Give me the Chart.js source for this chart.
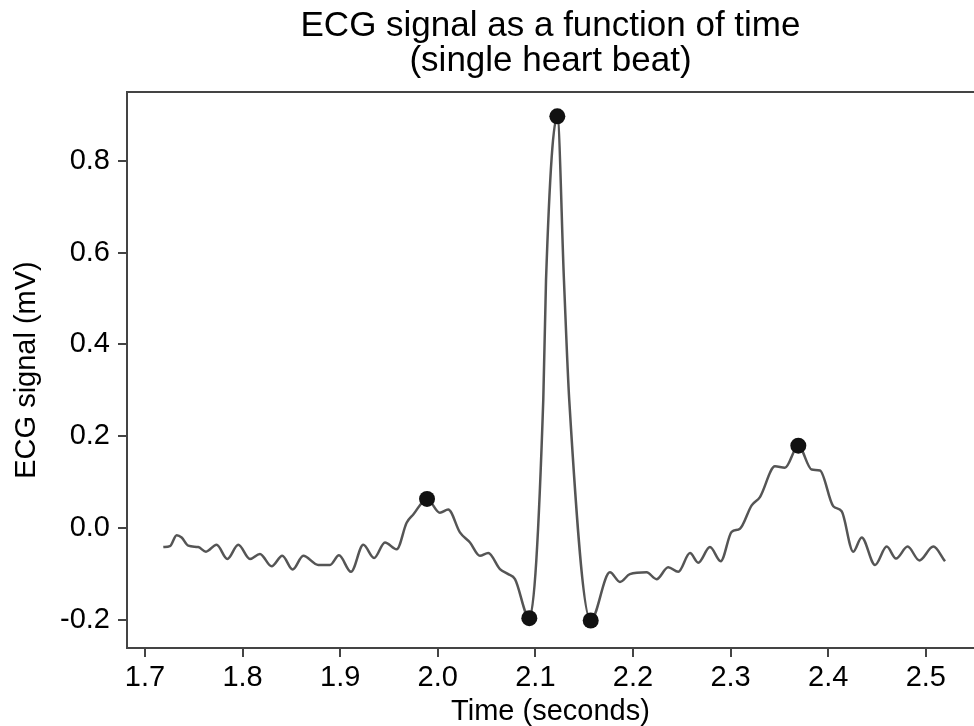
<!DOCTYPE html>
<html>
<head>
<meta charset="utf-8">
<title>ECG signal</title>
<script src="https://cdn.jsdelivr.net/npm/chart.js@4/dist/chart.umd.min.js"></script>
<style>
  html, body { margin: 0; padding: 0; background: #fff; }
  #wrap { width: 974px; height: 726px; }
</style>
</head>
<body>
<div id="wrap"><canvas id="ecg" width="974" height="726"></canvas></div>
<script>
// sample times (s) and signal (mV)
const timeValues = [
  1.7188, 1.7256, 1.7325, 1.7376, 1.7444, 1.7546, 1.7625, 1.7734, 1.7844, 1.7956,
  1.8076, 1.8178, 1.8298, 1.8407, 1.8513, 1.8622, 1.8776, 1.8896, 1.8988, 1.9111,
  1.9237, 1.9347, 1.9459, 1.9579, 1.9681, 1.9749, 1.9890, 2.0022, 2.0107, 2.0227,
  2.0330, 2.0432, 2.0517, 2.0637, 2.0722, 2.0791, 2.0938, 2.1081, 2.1109, 2.1225,
  2.1293, 2.1347, 2.1567, 2.1764, 2.1867, 2.1968, 2.2140, 2.2242, 2.2361, 2.2464,
  2.2584, 2.2669, 2.2789, 2.2899, 2.3011, 2.3096, 2.3216, 2.3301, 2.3455, 2.3557,
  2.3694, 2.3831, 2.3916, 2.4052, 2.4138, 2.4257, 2.4343, 2.4480, 2.4600, 2.4695,
  2.4814, 2.4934, 2.5077, 2.5197
];
const ecgValues = [
  -0.042, -0.040, -0.016, -0.021, -0.039, -0.042, -0.052, -0.037, -0.068, -0.037,
  -0.068, -0.057, -0.084, -0.061, -0.091, -0.061, -0.081, -0.081, -0.060, -0.096,
  -0.037, -0.066, -0.032, -0.047, 0.011, 0.029, 0.063, 0.033, 0.040, -0.010,
  -0.032, -0.061, -0.055, -0.090, -0.101, -0.112, -0.197, 0.279, 0.539, 0.897,
  0.539, 0.279, -0.202, -0.097, -0.118, -0.101, -0.097, -0.112, -0.086, -0.096,
  -0.055, -0.076, -0.042, -0.073, -0.009, -0.002, 0.049, 0.067, 0.134, 0.131,
  0.179, 0.127, 0.125, 0.047, 0.036, -0.052, -0.021, -0.081, -0.041, -0.067,
  -0.041, -0.071, -0.041, -0.073
];

// P, Q, R, S, T points
const peakTimes = [1.9890, 2.0938, 2.1225, 2.1567, 2.3694];
const peakValues = [0.063, -0.197, 0.897, -0.202, 0.179];

const xTicks = [1.7, 1.8, 1.9, 2.0, 2.1, 2.2, 2.3, 2.4, 2.5];
const yTicks = [-0.2, 0.0, 0.2, 0.4, 0.6, 0.8];

const FONT = "'Liberation Sans', Arial, Helvetica, sans-serif";
const AXIS = '#444';

const linePoints = timeValues.map((t, i) => ({ x: t, y: ecgValues[i] }));
const peakPoints = peakTimes.map((t, i) => ({ x: t, y: peakValues[i] }));

// no extra side padding for the horizontal axes, the plot runs to the edge
const noSidePad = scale => { scale.paddingLeft = 0; scale.paddingRight = 0; };

new Chart(document.getElementById('ecg'), {
  type: 'line',
  data: {
    datasets: [
      {
        label: 'peaks',
        type: 'scatter',
        data: peakPoints,
        pointRadius: 8,
        pointBackgroundColor: '#111',
        pointBorderColor: '#111',
        pointBorderWidth: 0,
        order: 0
      },
      {
        label: 'ECG',
        data: linePoints,
        borderColor: '#555',
        borderWidth: 2.5,
        pointRadius: 0,
        fill: false,
        cubicInterpolationMode: 'monotone',
        order: 1
      }
    ]
  },
  options: {
    responsive: false,
    animation: false,
    events: [],
    layout: { padding: 0, autoPadding: false },
    plugins: {
      legend: { display: false },
      tooltip: { enabled: false },
      title: {
        display: true,
        fullSize: false,
        text: ['ECG signal as a function of time', '(single heart beat)'],
        color: '#000',
        font: { family: FONT, size: 35, weight: 'normal', lineHeight: 1.0 },
        padding: { top: 9, bottom: 13 }
      }
    },
    scales: {
      x: {
        type: 'linear',
        position: 'bottom',
        min: 1.6816,
        max: 2.5494,
        afterBuildTicks: scale => { scale.ticks = xTicks.map(v => ({ value: v })); },
        afterFit: scale => { scale.height = 78; noSidePad(scale); },
        ticks: {
          color: '#000',
          font: { family: FONT, size: 29 },
          padding: 4,
          maxRotation: 0,
          callback: v => v.toFixed(1)
        },
        grid: { drawOnChartArea: false, drawTicks: true, tickLength: 9, color: AXIS, lineWidth: 2 },
        border: { display: true, color: AXIS, width: 2 },
        title: {
          display: true,
          text: 'Time (seconds)',
          color: '#000',
          font: { family: FONT, size: 29, lineHeight: 1.0 },
          padding: { top: 0, bottom: 0 }
        }
      },
      xTop: {
        type: 'linear',
        position: 'top',
        display: true,
        afterFit: scale => { scale.height = 0; noSidePad(scale); },
        ticks: { display: false },
        grid: { display: true, drawOnChartArea: false, drawTicks: false, color: AXIS, lineWidth: 2 },
        border: { display: true, color: AXIS, width: 2 }
      },
      y: {
        type: 'linear',
        position: 'left',
        min: -0.262,
        max: 0.95,
        afterBuildTicks: scale => { scale.ticks = yTicks.map(v => ({ value: v })); },
        afterFit: scale => { scale.width = 127; scale.paddingTop = 0; scale.paddingBottom = 0; },
        ticks: {
          color: '#000',
          font: { family: FONT, size: 29 },
          padding: 8,
          callback: v => v.toFixed(1)
        },
        grid: { drawOnChartArea: false, drawTicks: true, tickLength: 9, color: AXIS, lineWidth: 2 },
        border: { display: true, color: AXIS, width: 2 },
        title: {
          display: true,
          text: 'ECG signal (mV)',
          color: '#000',
          font: { family: FONT, size: 29, lineHeight: 1.0 },
          padding: { top: 12, bottom: 0 }
        }
      }
    }
  }
});
</script>
</body>
</html>
